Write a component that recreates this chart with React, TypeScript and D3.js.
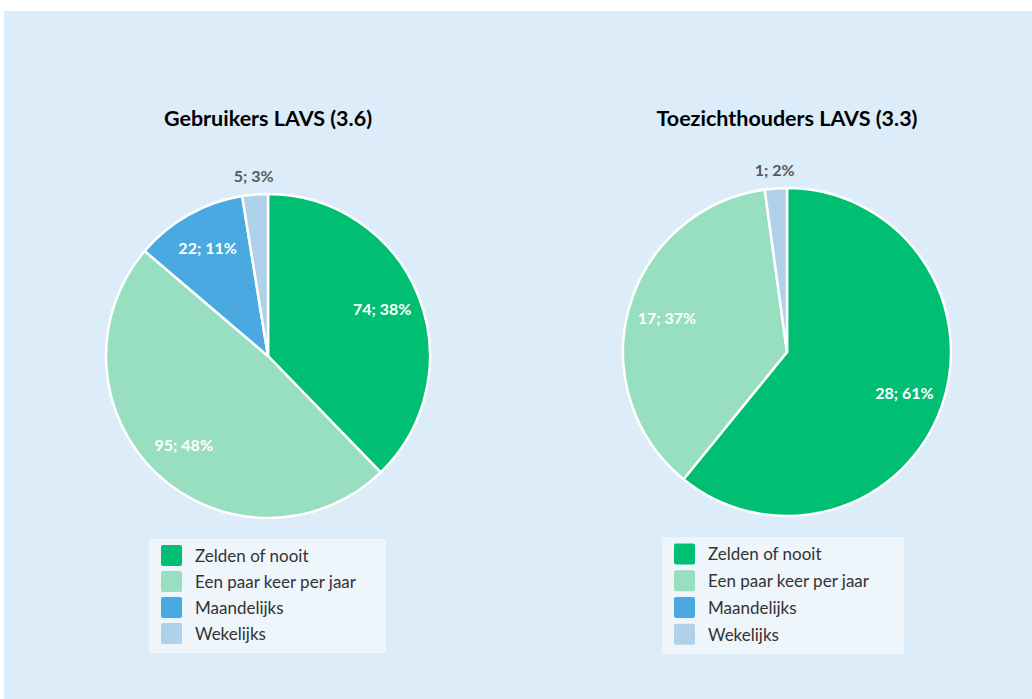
import { useEffect, useRef } from 'react';
import * as d3 from 'd3';

// categories shared by both pies
const categories = ['Zelden of nooit', 'Een paar keer per jaar', 'Maandelijks', 'Wekelijks'];
const colors = ['#00bf73', '#98dec0', '#4ba9e1', '#afd2ea'];

// counts per chart
const gebruikersValues = [74, 95, 22, 5];
const toezichtValues = [28, 17, 0, 1];
const gebruikersPct = [38, 48, 11, 3];
const toezichtPct = [61, 37, 0, 2];

const titles = ['Gebruikers LAVS (3.6)', 'Toezichthouders LAVS (3.3)'];

const FONT = 'Lato, "Open Sans", sans-serif';

const App = () => {
  const svgRef = useRef<SVGSVGElement>(null);

  useEffect(() => {
    const width = 1032;
    const height = 699;
    const svg = d3.select(svgRef.current).attr('width', width).attr('height', height);
    svg.selectAll('*').remove();

    // panel background
    svg.append('rect')
      .attr('x', 4).attr('y', 11)
      .attr('width', width - 4).attr('height', height - 11)
      .attr('fill', '#dcecf8');

    const charts = [
      { title: titles[0], values: gebruikersValues, pct: gebruikersPct, cx: 268, cy: 356, r: 162,
        legend: { x: 149, y: 539, w: 237, h: 114 } },
      { title: titles[1], values: toezichtValues, pct: toezichtPct, cx: 787, cy: 352, r: 164,
        legend: { x: 662, y: 537, w: 242, h: 117 } },
    ];

    charts.forEach(c => {
      const g = svg.append('g').attr('transform', `translate(${c.cx},${c.cy})`);

      svg.append('text')
        .attr('x', c.cx)
        .attr('y', 126)
        .attr('text-anchor', 'middle')
        .style('font-family', FONT)
        .style('font-weight', 'bold')
        .style('font-size', '21.5px')
        .style('fill', '#000')
        .text(c.title);

      const pieData = c.values.map((v, i) => ({ label: categories[i], value: v, pct: c.pct[i], i }));
      const pie = d3.pie<typeof pieData[0]>().value(d => d.value).sort(null);
      const arcs = pie(pieData).filter(d => d.data.value > 0);

      const arc = d3.arc<d3.PieArcDatum<typeof pieData[0]>>().innerRadius(0).outerRadius(c.r);
      const labelArc = d3.arc<d3.PieArcDatum<typeof pieData[0]>>().innerRadius(c.r * 0.76).outerRadius(c.r * 0.76);
      const outerArc = d3.arc<d3.PieArcDatum<typeof pieData[0]>>().innerRadius(c.r + 18).outerRadius(c.r + 18);

      g.selectAll('path')
        .data(arcs)
        .enter()
        .append('path')
        .attr('d', arc)
        .attr('fill', d => colors[d.data.i])
        .attr('stroke', '#fff')
        .attr('stroke-width', 2.5)
        .attr('stroke-linejoin', 'round');

      g.selectAll('text.lbl')
        .data(arcs)
        .enter()
        .append('text')
        .attr('class', 'lbl')
        .attr('transform', d => {
          const small = d.endAngle - d.startAngle < 0.3;
          const p = small ? outerArc.centroid(d) : labelArc.centroid(d);
          return `translate(${p})`;
        })
        .attr('dy', '0.35em')
        .attr('text-anchor', 'middle')
        .style('font-family', FONT)
        .style('font-weight', 'bold')
        .style('font-size', '16px')
        .style('fill', d => (d.endAngle - d.startAngle < 0.3 ? '#595959' : '#fff'))
        .text(d => `${d.data.value}; ${d.data.pct}%`);

      // legend
      const lg = svg.append('g').attr('transform', `translate(${c.legend.x},${c.legend.y})`);
      lg.append('rect')
        .attr('width', c.legend.w)
        .attr('height', c.legend.h)
        .attr('fill', '#eef6fc');

      const rowY = d3.scaleBand<number>().domain(d3.range(categories.length)).range([4, c.legend.h - 6]);
      categories.forEach((cat, i) => {
        const y = rowY(i)! + rowY.bandwidth() / 2;
        lg.append('rect')
          .attr('x', 12)
          .attr('y', y - 11)
          .attr('width', 21)
          .attr('height', 21)
          .attr('rx', 2)
          .attr('fill', colors[i]);
        lg.append('text')
          .attr('x', 46)
          .attr('y', y)
          .attr('dy', '0.35em')
          .style('font-family', FONT)
          .style('font-size', '17px')
          .style('fill', '#333')
          .text(cat);
      });
    });
  }, []);

  return <svg ref={svgRef} style={{ position: 'absolute', left: 0, top: 0 }}></svg>;
};

export default App;
